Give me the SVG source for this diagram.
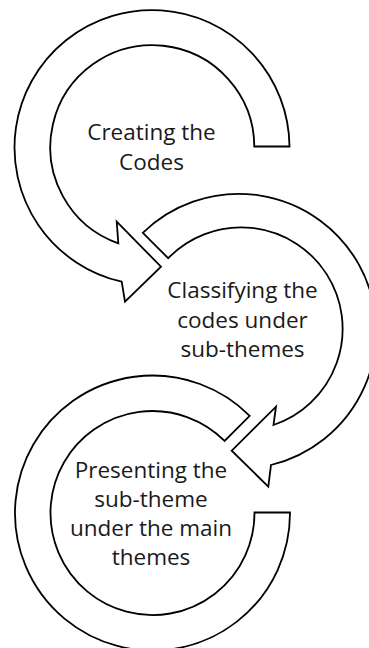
<svg xmlns="http://www.w3.org/2000/svg" width="369" height="648" viewBox="0 0 369 648">
<style>
.arrow{fill:#fff;stroke:#000;stroke-width:1.8;stroke-linejoin:miter}
.lbl{font-family:"Open Sans","Noto Sans",sans-serif;font-size:22.5px;fill:#1a1a1a;text-anchor:middle}
</style>
<rect width="369" height="648" fill="#fff"/>
<g id="connectors"></g>
<g id="node1">
<path class="arrow" d="M289.5,146.5 A137.5,137.5 0 1 0 121.7,281.7 L125,301.7 L161,266.7 L116.7,221.7 L118.3,243.3 A102,102 0 1 1 254.3,146.5 Z"/>
<text class="lbl" x="151.5" y="140">Creating the</text>
<text class="lbl" x="151.5" y="170">Codes</text>
</g>
<g id="node2">
<path class="arrow" d="M142.8,232.8 A137.5,137.5 0 1 1 271,465 L268.3,486.7 L231.7,450.7 L276,406.7 L273.5,425 A101.5,101.5 0 1 0 168.2,258.2 Z"/>
<text class="lbl" x="242.5" y="298.3">Classifying the</text>
<text class="lbl" x="242.5" y="328.3">codes under</text>
<text class="lbl" x="242.5" y="357.3">sub-themes</text>
</g>
<g id="node3">
<path class="arrow" d="M290,512.5 A137.5,137.5 0 1 1 249.7,415.8 L224.6,440.9 A102,102 0 1 0 254.5,512.5 Z"/>
<text class="lbl" x="151" y="478.3">Presenting the</text>
<text class="lbl" x="151" y="506.7">sub-theme</text>
<text class="lbl" x="151" y="536">under the main</text>
<text class="lbl" x="151" y="565">themes</text>
</g>
</svg>
